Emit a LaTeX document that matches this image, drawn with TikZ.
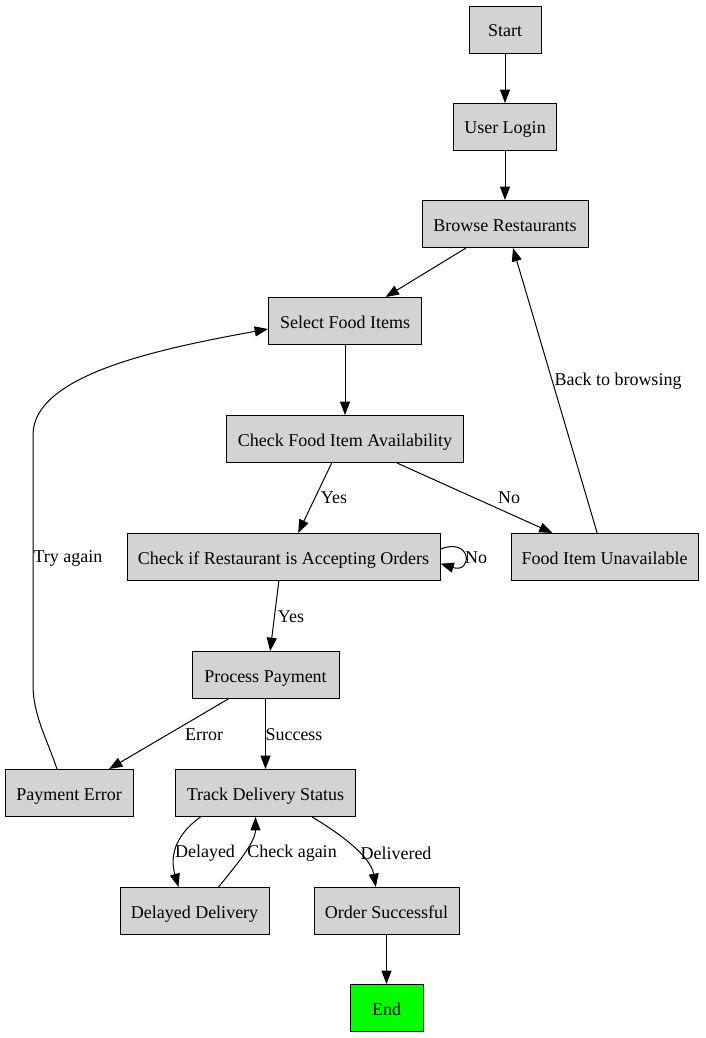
\documentclass[tikz,border=0pt]{standalone}
\usepackage{fontspec}
\setmainfont{Liberation Serif}
\usetikzlibrary{arrows.meta}
\definecolor{boxgray}{HTML}{D3D3D3}
\definecolor{endgreen}{HTML}{00FF00}
\begin{document}
\begin{tikzpicture}[x=0.75pt,y=-0.75pt,
  font=\fontsize{13.5pt}{16pt}\selectfont,
  box/.style={draw, line width=0.75pt, fill=boxgray, minimum height=35.25pt, inner sep=2pt,
    text height=10.5pt, text depth=0pt},
  flow/.style={-{Triangle[length=10pt,width=7.5pt]}, line width=0.75pt},
  lbl/.style={inner sep=1pt}]
\useasboundingbox (0,0) rectangle (706,1038);

% process steps
\node[box, minimum width=54pt]     (start)  at (505,30)   {Start};
\node[box, minimum width=77.25pt]  (login)  at (505,127)  {User Login};
\node[box, minimum width=124.5pt]  (browse) at (505,224)  {Browse Restaurants};
\node[box, minimum width=114.75pt] (select) at (345,321)  {Select Food Items};
\node[box, minimum width=177.75pt] (avail)  at (345,439)  {Check Food Item Availability};
\node[box, minimum width=234.75pt] (rest)   at (283.5,557){Check if Restaurant is Accepting Orders};
\node[box, minimum width=140.25pt] (unav)   at (604.5,557){Food Item Unavailable};
\node[box, minimum width=110.25pt] (pay)    at (265.5,675){Process Payment};
\node[box, minimum width=96pt]     (perr)   at (69,793)   {Payment Error};
\node[box, minimum width=135pt]    (track)  at (265.5,793){Track Delivery Status};
\node[box, minimum width=111.75pt] (delay)  at (194.5,911){Delayed Delivery};
\node[box, minimum width=108.75pt] (okay)   at (386.5,911){Order Successful};
\node[box, minimum width=54.75pt, fill=endgreen] (end) at (386.5,1008){End};

% straight connectors
\draw[flow] (start) -- (login);
\draw[flow] (login) -- (browse);
\draw[flow] ([xshift=-29.25pt]browse.south) -- ([xshift=30.5pt]select.north);
\draw[flow] (select) -- (avail);
\draw[flow] ([xshift=-10pt]avail.south) -- ([xshift=11pt]rest.north);
\draw[flow] ([xshift=39pt]avail.south) -- ([xshift=-39pt]unav.north);
\draw[flow] ([xshift=-3.5pt]rest.south) -- ([xshift=3.5pt]pay.north);
\draw[flow] ([xshift=-5.5pt]unav.north) -- ([xshift=6pt]browse.south);
\draw[flow] ([xshift=-28pt]pay.south) -- ([xshift=30pt]perr.north);
\draw[flow] (pay) -- (track);
\draw[flow] (okay) -- (end);

% self loop on the restaurant check
\draw[flow] ([yshift=6pt]rest.east) .. controls +(32,-12) and +(32,10) .. ([yshift=-5pt]rest.east);

% retry after a failed payment
\draw[flow] ([xshift=-9pt]perr.north) .. controls +(-10,-30) and +(0,30) .. (33,685)
  -- (33,435)
  .. controls +(0,-60) and +(-110,20) .. ([yshift=-6pt]select.west);

% delivery tracking
\draw[flow] ([xshift=-48.75pt]track.south) .. controls +(-28,20) and +(-8,-28) .. ([xshift=-12pt]delay.north);
\draw[flow] ([xshift=18pt]delay.north) .. controls +(18,-22) and +(0,25) .. ([xshift=-7.5pt]track.south);
\draw[flow] ([xshift=35pt]track.south) .. controls +(30,18) and +(-5,-30) .. ([xshift=-8pt]okay.north);

% edge labels
\node[lbl] (lyes1)  at (334,498) {Yes};
\node[lbl] (lno1)   at (509,498) {No};
\node[lbl] (lno2)   at (476,558) {No};
\node[lbl] (lyes2)  at (291,617) {Yes};
\node[lbl] (lback)  at (618,381) {Back to browsing};
\node[lbl] (ltry)   at (68,558)  {Try again};
\node[lbl] (lerr)   at (204,735) {Error};
\node[lbl] (lsucc)  at (294,735) {Success};
\node[lbl] (ldel)   at (205,853) {Delayed};
\node[lbl] (lcheck) at (292,853) {Check again};
\node[lbl] (ldone)  at (396,853) {Delivered};
\end{tikzpicture}
\end{document}
